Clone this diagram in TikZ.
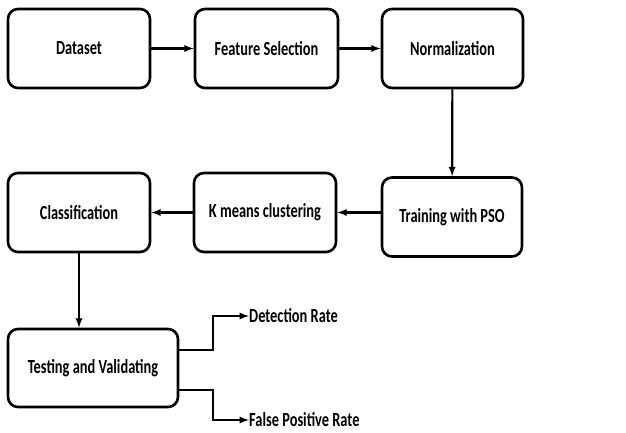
\documentclass[tikz,border=0pt]{standalone}
\usepackage{fontspec}
\setmainfont{Carlito}[FakeStretch = 0.72]
\begin{document}
\begin{tikzpicture}[x = 1pt, y = -1pt, >=latex,
        stage/.style = {draw, line width = 2.6pt, rounded corners = 10pt, minimum width = #1, minimum height = 79pt, inner sep = 0pt, font = \fontsize{20}{22}\selectfont\bfseries},
        outcome/.style = {anchor = west, inner sep = 0pt, font = \fontsize{20}{22}\selectfont\bfseries},
        link/.style = {->, line width = 2.2pt}]
    \useasboundingbox (0, 0) rectangle (626, 433);
    \node[stage = 142pt] (dataset) at (79, 48.5) {Dataset};
    \node[stage = 143pt] (feature) at (266.5, 48.5) {Feature Selection};
    \node[stage = 141pt] (norm) at (452.5, 48.5) {Normalization};
    \node[stage = 140pt] (pso) at (452, 217) {Training with PSO};
    \node[stage = 142pt] (kmeans) at (265, 212.5) {K means clustering};
    \node[stage = 142pt] (classif) at (79, 212.5) {Classification};
    \node[stage = 170pt, minimum height = 78pt] (testing) at (93, 368) {Testing and Validating};
    \node[outcome] (detect) at (249, 316) {Detection Rate};
    \node[outcome] (falsepos) at (249, 420) {False Positive Rate};
    \draw[link] (dataset) -- (feature);
    \draw[link] (feature) -- (norm);
    \draw[link] (norm) -- (pso);
    \draw[link] (pso.west |- kmeans.east) -- (kmeans);
    \draw[link] (kmeans) -- (classif);
    \draw[link] (classif.south) -- (classif.south |- testing.north);
    \draw[link] ([yshift = 18pt]testing.east) -- ++(34, 0) |- (detect.west);
    \draw[link] ([yshift = -22pt]testing.east) -- ++(34, 0) |- (falsepos.west);
\end{tikzpicture}
\end{document}
